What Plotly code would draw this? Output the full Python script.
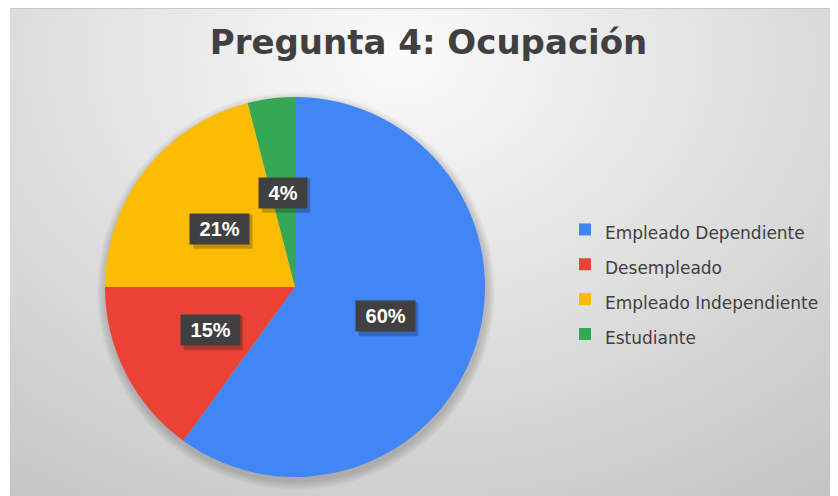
import math
import plotly.graph_objects as go

title_text = "Pregunta 4: Ocupación"
categories = ["Empleado Dependiente", "Desempleado", "Empleado Independiente", "Estudiante"]
values = [60, 15, 21, 4]
colors = ["#4285F4", "#EA4335", "#FBBC04", "#34A853"]

# page is 838x496; the browser body adds an 8px offset
OFF = 8
W, H = 838 - OFF, 496 - OFF
CX, CY, R = 295, 287, 190


def px(x):
    return (x - OFF) / W


def py(y):
    return 1 - (y - OFF) / H


shapes = []
# soft radial background
gx, gy, sx = 400, 60, 1.3


def gcol(d):
    v = int(round(max(192, 251 - 0.1 * d)))
    return f"rgb({v},{v},{v})"


for d in range(660, 0, -10):
    shapes.append(dict(type="circle", xref="paper", yref="paper",
                       x0=px(gx - d * sx), x1=px(gx + d * sx),
                       y0=py(gy + d), y1=py(gy - d),
                       fillcolor=gcol(d), line_width=0, layer="below"))

# soft pie shadow
for k in range(9, 0, -1):
    rr = R + k
    shapes.append(dict(type="circle", xref="paper", yref="paper",
                       x0=px(CX + 1 - rr), x1=px(CX + 1 + rr),
                       y0=py(CY + 4 + rr), y1=py(CY + 4 - rr),
                       fillcolor="rgba(0,0,0,0.018)", line_width=0, layer="below"))

# white outer margin on the left and frame edge
shapes.append(dict(type="rect", xref="paper", yref="paper", x0=px(0), x1=px(10), y0=0, y1=1,
                   fillcolor="white", line_width=0, layer="above"))
shapes.append(dict(type="line", xref="paper", yref="paper", x0=px(10), x1=1, y0=py(8.5), y1=py(8.5),
                   line=dict(color="#c8c8c8", width=1), layer="above"))

fig = go.Figure()
fig.add_trace(go.Pie(
    labels=[f'<span style="font-size:17px">{c}</span>' for c in categories],
    values=values,
    marker=dict(colors=colors, line=dict(width=0)),
    sort=False,
    direction="clockwise",
    rotation=0,
    textinfo="none",
    hoverinfo="label+percent",
    domain=dict(x=[px(CX - R), px(CX + R)], y=[py(CY + R), py(CY - R)]),
))

annotations = []
total = sum(values)
cum = 0
FS = 20
PAD = 4
for v in values:
    mid = (cum + v / 2) / total * 2 * math.pi
    cum += v
    lx = CX + 0.5 * R * math.sin(mid)
    ly = CY - 0.5 * R * math.cos(mid)
    pct = f"{round(v / total * 100)}%"
    txt = "\u00a0" + pct + "\u00a0"
    # label box shadow (approximate box size from Arial-bold metrics)
    bw = FS * (0.556 * (len(pct) - 1) + 0.889 + 2 * 0.278) + 2 * PAD
    bh = FS * 1.3 + 2 * PAD
    shapes.append(dict(type="rect", xref="paper", yref="paper",
                       x0=px(lx - bw / 2 + 3), x1=px(lx + bw / 2 + 3),
                       y0=py(ly + bh / 2 + 3), y1=py(ly - bh / 2 + 3),
                       fillcolor="rgba(0,0,0,0.22)", line_width=0, layer="above"))
    annotations.append(dict(x=px(lx), y=py(ly), xref="paper", yref="paper", text=txt,
                            xanchor="center", yanchor="middle",
                            showarrow=False, bgcolor="#404040", borderpad=PAD,
                            font=dict(family="Liberation Sans", size=FS, color="white", weight="bold")))

fig.update_layout(
    width=W, height=H,
    margin=dict(l=0, r=0, t=0, b=0, pad=0),
    paper_bgcolor=gcol(700),
    plot_bgcolor="rgba(0,0,0,0)",
    title=dict(text=title_text, x=px(428.5), xanchor="center", xref="paper",
               y=py(42), yanchor="middle", yref="paper",
               font=dict(family="DejaVu Sans", size=34, color="#404040", weight="bold")),
    legend=dict(x=px(565), y=py(207), xanchor="left", yanchor="top",
                bgcolor="rgba(0,0,0,0)",
                font=dict(family="DejaVu Sans", size=24.5, color="#404040")),
    shapes=shapes,
    annotations=annotations,
)

fig.write_html("out.html")
